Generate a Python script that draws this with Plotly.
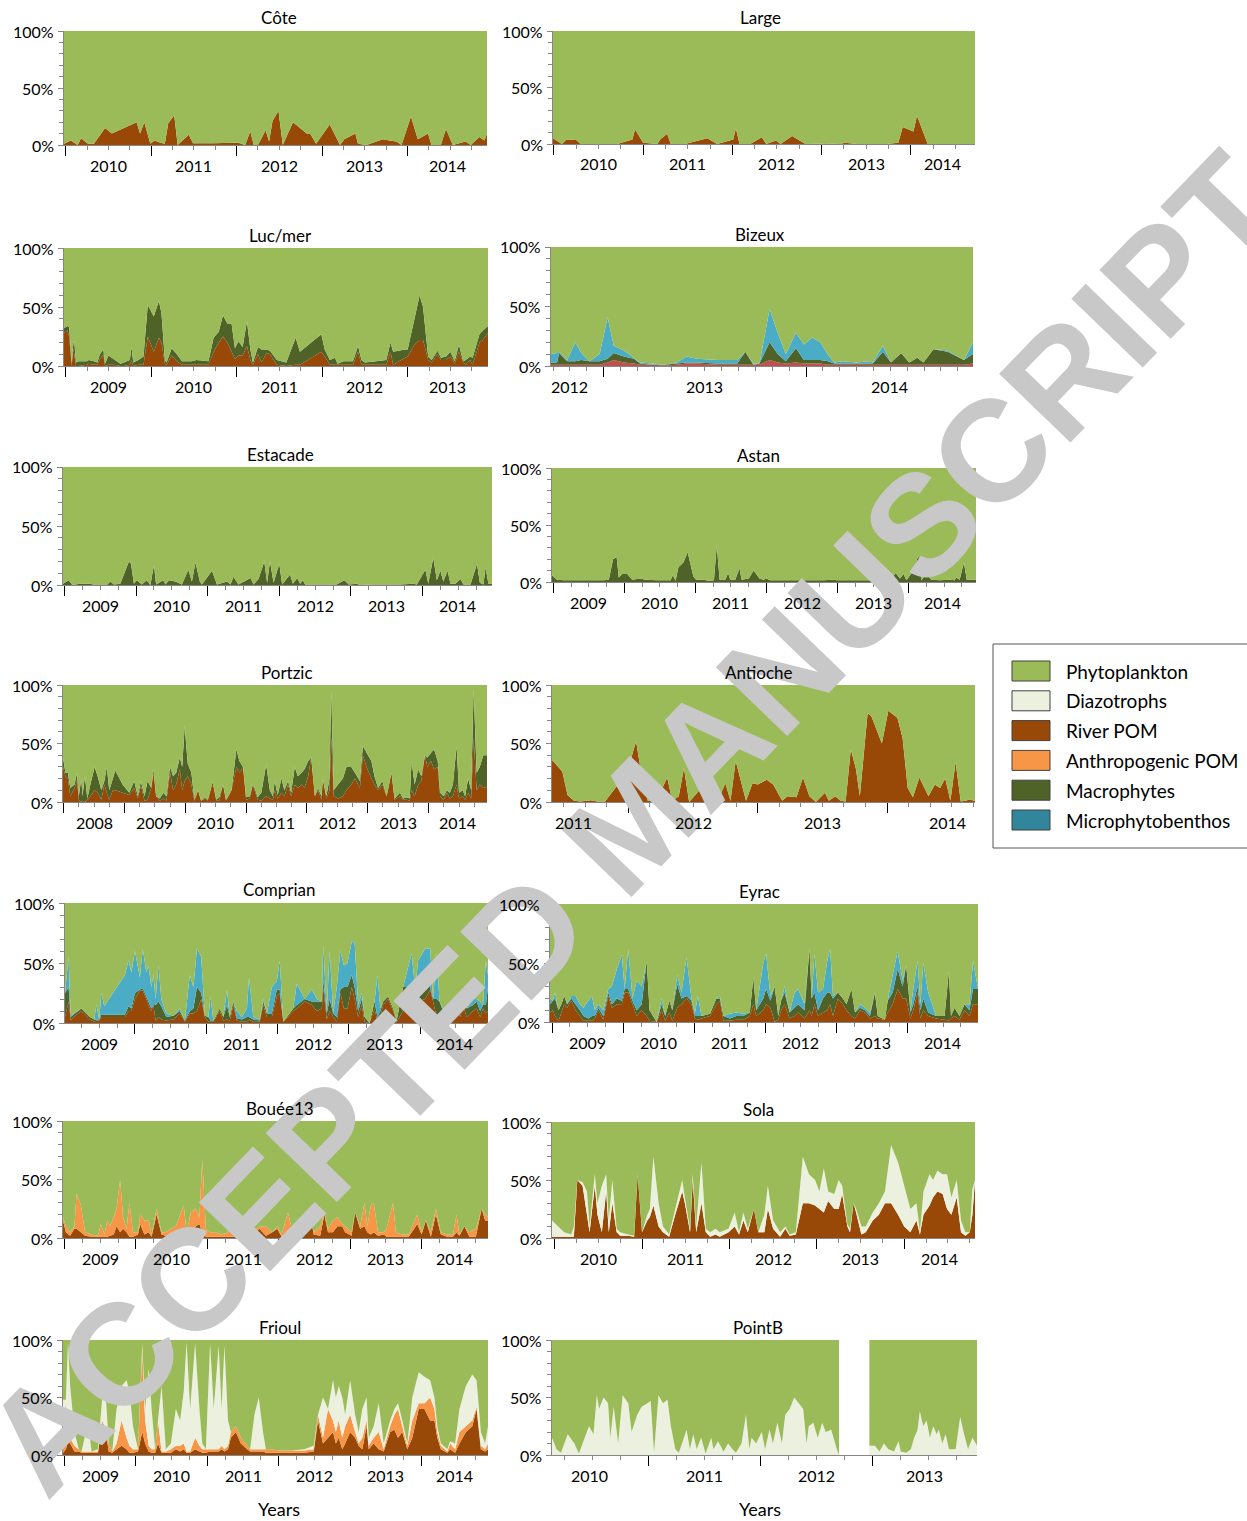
import numpy as np
import plotly.graph_objects as go

FIG_W, FIG_H = 1247, 1521
FONT = "Lato, 'Noto Sans', sans-serif"

# ---------------------------------------------------------------- data
COTE_X = [2009.98, 2010.06, 2010.14, 2010.18, 2010.26, 2010.33, 2010.46, 2010.54, 2010.83, 2010.87, 2010.92, 2010.99,
          2011.04, 2011.11, 2011.16, 2011.20, 2011.27, 2011.31, 2011.44, 2011.49, 2011.73, 2011.96,
          2012.02, 2012.10, 2012.16, 2012.20, 2012.25, 2012.34, 2012.38, 2012.42, 2012.49, 2012.54, 2012.66, 2012.82, 2012.86, 2012.93,
          2013.09, 2013.21, 2013.26, 2013.39, 2013.42, 2013.52, 2013.71, 2013.79, 2013.87, 2013.93,
          2014.04, 2014.12, 2014.24, 2014.28, 2014.39, 2014.45, 2014.53, 2014.68, 2014.74, 2014.84, 2014.90, 2014.93]
COTE_RIVER = [1, 4, 0, 6, 1, 1, 15, 10, 20, 10, 20, 1,
              4, 2, 1, 19, 26, 0, 9, 1.5, 1.5, 2,
              2, 0, 12, 0, 0, 13, 3, 21, 30, 0, 20, 10, 10, 1,
              18, 0, 5, 10, 1, 0, 5, 4, 3, 0,
              25, 5, 10, 0, 0, 14, 0, 3, 0, 7, 4, 10]

LARGE_X = [2009.99, 2010.09, 2010.14, 2010.25, 2010.30, 2010.52, 2010.71, 2010.88, 2010.91,
           2011.00, 2011.16, 2011.19, 2011.27, 2011.31, 2011.47, 2011.72, 2011.83,
           2012.01, 2012.04, 2012.08, 2012.20, 2012.33, 2012.38, 2012.49, 2012.54, 2012.67, 2012.82,
           2013.06, 2013.21, 2013.26, 2013.40, 2013.73, 2013.86, 2013.91,
           2014.03, 2014.07, 2014.19, 2014.72]
LARGE_RIVER = [5, 0, 4, 3.5, 0, 0, 0, 4, 13,
               1, 0, 4, 9, 0, 0, 5, 0,
               4, 14, 0, 0, 6, 0, 3, 0, 7, 0,
               0.5, 0, 1, 0, 0, 1, 15,
               11, 25, 0, 0]

LUC_X = [2008.98, 2009.02, 2009.04, 2009.07, 2009.09, 2009.10, 2009.12, 2009.15, 2009.25, 2009.27, 2009.33, 2009.37, 2009.40,
         2009.44, 2009.46, 2009.50, 2009.56, 2009.64, 2009.68, 2009.75, 2009.77, 2009.79, 2009.85, 2009.91, 2009.96,
         2010.03, 2010.09, 2010.12, 2010.16, 2010.18, 2010.24, 2010.30, 2010.36, 2010.47, 2010.53, 2010.67, 2010.73, 2010.79,
         2010.84, 2010.89, 2010.94, 2010.98,
         2011.02, 2011.07, 2011.12, 2011.16, 2011.19, 2011.25, 2011.29, 2011.35, 2011.39, 2011.47, 2011.58, 2011.69, 2011.74, 2011.99,
         2012.03, 2012.09, 2012.15, 2012.18, 2012.25, 2012.36, 2012.42, 2012.46, 2012.50, 2012.63, 2012.75, 2012.80, 2012.83, 2012.97,
         2013.00, 2013.08, 2013.14, 2013.18, 2013.24, 2013.28, 2013.35, 2013.39, 2013.45, 2013.50, 2013.55, 2013.60, 2013.65,
         2013.68, 2013.73, 2013.76, 2013.84, 2013.88, 2013.94]
LUC_RIVER = [28, 30, 25, 0, 15, 10, 0, 0, 1, 2, 1, 1, 6, 10, 0, 1, 1, 0, 0, 1, 5, 0, 1, 1, 25,
             12, 24, 20, 2, 1, 9, 4, 1, 1, 1, 1, 12, 20, 25, 20, 12, 6,
             9, 9, 17, 5, 1, 10, 3, 11, 10, 1, 0, 1, 1, 12,
             8, 1, 1, 1, 1, 1, 12, 1, 1, 1, 1, 12, 1, 7,
             8, 18, 22, 22, 5, 3, 10, 5, 5, 8, 2, 12, 3, 1, 5, 1, 20, 22, 28]
LUC_MACRO = [4, 4, 8, 2, 5, 11, 3, 4, 3, 3, 3, 2, 4, 4, 2, 8, 5, 2, 3, 4, 11, 3, 4, 7, 27,
             30, 31, 25, 3, 2, 6, 6, 3, 3, 4, 3, 12, 9, 18, 16, 24, 9,
             12, 7, 21, 9, 2, 6, 11, 3, 3, 4, 3, 23, 11, 15,
             6, 4, 6, 1, 3, 3, 5, 4, 2, 3, 4, 8, 11, 7,
             6, 22, 38, 28, 3, 2, 3, 2, 3, 4, 2, 6, 1, 4, 3, 6, 7, 8, 6]

BIZ_X = [2012.74, 2012.77, 2012.78, 2012.82, 2012.86, 2012.89, 2012.93, 2012.98,
         2013.02, 2013.05, 2013.10, 2013.15, 2013.18, 2013.24, 2013.30, 2013.36, 2013.41, 2013.46, 2013.56, 2013.66,
         2013.70, 2013.74, 2013.77, 2013.82, 2013.86, 2013.90, 2013.95, 2013.99,
         2014.03, 2014.07, 2014.11, 2014.14, 2014.18, 2014.25, 2014.31, 2014.33, 2014.38, 2014.42, 2014.47, 2014.51,
         2014.55, 2014.58, 2014.63, 2014.70, 2014.78, 2014.825]
BIZ_RIVER = [1, 1, 1, 1, 1, 1, 1, 1,
             3, 5, 3, 2, 1, 1, 0.5, 1, 2, 2, 1, 1, 1, 1, 1, 5, 3, 2, 3, 2,
             2, 2, 1, 1, 1, 1, 1, 1, 1, 1, 1, 1, 1, 1, 1, 1, 1, 2]
BIZ_MACRO = [2, 2, 10, 3, 3, 4, 3, 3,
             3, 6, 5, 4, 1, 0, 0.5, 1, 1, 1, 1, 1, 11, 0, 1, 15, 7, 2, 12, 3,
             3, 3, 3, 1, 1, 1, 1, 1, 11, 2, 10, 2, 6, 2, 13, 11, 4, 8]
BIZ_MICRO = [7, 8, 1, 1, 16, 6, 0, 6,
             35, 6, 5, 1, 1, 1, 0, 1, 5, 3, 3, 3, 0, 1, 0, 28, 18, 6, 13, 13,
             19, 15, 5, 1, 2, 1, 2, 1, 5, 0, 0, 0, 0, 0, 0, 1, 0, 10]

EST_X = [2008.98, 2009.06, 2009.11, 2009.22, 2009.34, 2009.41, 2009.60, 2009.64, 2009.69, 2009.78, 2009.90, 2009.93, 2009.97,
         2010.01, 2010.08, 2010.15, 2010.20, 2010.25, 2010.28, 2010.38, 2010.41, 2010.46, 2010.55, 2010.64, 2010.73, 2010.78,
         2010.83, 2010.89, 2010.92,
         2011.06, 2011.13, 2011.27, 2011.32, 2011.36, 2011.43, 2011.60, 2011.64, 2011.71, 2011.79, 2011.83, 2011.87, 2011.92,
         2012.00, 2012.04, 2012.15, 2012.19, 2012.25, 2012.29, 2012.33, 2012.36, 2012.57, 2012.80, 2012.91, 2012.97,
         2013.08, 2013.13, 2013.32, 2013.69, 2013.87, 2013.92,
         2014.04, 2014.08, 2014.15, 2014.20, 2014.25, 2014.29, 2014.35, 2014.39, 2014.46, 2014.53, 2014.57, 2014.67, 2014.76,
         2014.80, 2014.85, 2014.88, 2014.92, 2014.97]
EST_MACRO = [1, 4, 0, 1, 1, 0.5, 0.5, 3, 0.5, 1, 20, 18, 1,
             4, 0.5, 4, 0, 17, 0.5, 4, 0.5, 4, 3, 0.5, 13, 3, 19, 3, 0.5,
             12, 0.5, 3, 0.5, 7, 0.5, 6, 0.5, 5, 20, 2, 20, 2,
             18, 0.5, 9, 1, 6, 1, 4, 0.5, 0.5, 0.5, 4, 0.5,
             1, 0, 0.5, 0.5, 1, 0.5,
             13, 1, 23, 4, 12, 3, 12, 1, 1, 5, 0.5, 0.5, 18, 2, 0.5, 15, 1, 1]

AST_X = [2008.98, 2009.05, 2009.15, 2009.33, 2009.52, 2009.71, 2009.78, 2009.84, 2009.89, 2009.92, 2009.97,
         2010.04, 2010.11, 2010.22, 2010.30, 2010.46, 2010.65, 2010.68, 2010.72, 2010.76, 2010.83, 2010.89, 2010.97,
         2011.01, 2011.11, 2011.19, 2011.26, 2011.30, 2011.34, 2011.42, 2011.46, 2011.49, 2011.56, 2011.62, 2011.65,
         2011.75, 2011.82, 2011.90, 2011.96,
         2012.00, 2012.05, 2012.33, 2012.52, 2012.80, 2012.94, 2012.99,
         2013.27, 2013.74, 2013.82, 2013.88, 2013.93, 2013.97,
         2014.07, 2014.14, 2014.18, 2014.25, 2014.32, 2014.44, 2014.58, 2014.65, 2014.67, 2014.72, 2014.78, 2014.82, 2014.95]
AST_MACRO = [6, 2, 1.5, 1.5, 1.5, 1.5, 2, 20, 22, 4, 7,
             7, 2, 3, 2, 1.5, 1.5, 6, 1, 13, 17, 26, 5,
             2, 2, 1, 1.5, 32, 2, 2, 8, 2, 2, 12, 2, 3, 10, 3, 2,
             3, 1.5, 1.5, 1.5, 1.5, 2, 1.5,
             1.5, 1.5, 8, 3, 7, 1.5,
             10, 24, 1.5, 7, 2, 1.5, 2, 1.5, 4, 2, 17, 2, 2]

POR_X = [2007.99, 2008.03, 2008.07, 2008.11, 2008.18, 2008.22, 2008.25, 2008.29, 2008.31, 2008.35, 2008.39, 2008.44,
         2008.51, 2008.56, 2008.62, 2008.67, 2008.71, 2008.75, 2008.81, 2008.85, 2008.97,
         2009.08, 2009.16, 2009.22, 2009.27, 2009.33, 2009.38, 2009.44, 2009.48, 2009.52, 2009.58, 2009.64, 2009.69,
         2009.75, 2009.80, 2009.85, 2009.91, 2009.95, 2009.99,
         2010.04, 2010.10, 2010.15, 2010.21, 2010.26, 2010.32, 2010.37, 2010.45, 2010.51, 2010.56, 2010.62, 2010.67,
         2010.76, 2010.84, 2010.89, 2010.95,
         2011.00, 2011.06, 2011.11, 2011.14, 2011.19, 2011.25, 2011.33, 2011.39, 2011.44, 2011.47, 2011.52, 2011.58,
         2011.63, 2011.69, 2011.74, 2011.80, 2011.85, 2011.91, 2011.96,
         2012.02, 2012.07, 2012.13, 2012.18, 2012.24, 2012.26, 2012.32, 2012.37, 2012.40, 2012.44, 2012.51, 2012.59,
         2012.65, 2012.73, 2012.79, 2012.87, 2012.92, 2012.98,
         2013.06, 2013.11, 2013.17, 2013.24, 2013.31, 2013.39, 2013.44, 2013.53, 2013.58, 2013.64, 2013.69, 2013.72,
         2013.77, 2013.83, 2013.88, 2013.94, 2013.98,
         2014.04, 2014.09, 2014.15, 2014.19, 2014.25, 2014.30, 2014.35, 2014.40, 2014.46, 2014.50, 2014.56, 2014.60,
         2014.65, 2014.70, 2014.74, 2014.79, 2014.84, 2014.90, 2014.96]
POR_RIVER = [30, 22, 20, 5, 12, 18, 2, 0, 1, 0, 2, 5, 10, 8, 2, 15, 8, 2, 10, 10, 8,
             6, 12, 3, 14, 1, 2, 12, 25, 5, 1, 3, 1, 25, 10, 15, 28, 10, 18,
             22, 15, 1, 10, 1, 3, 1, 17, 1, 1, 15, 1, 10, 30, 25, 30,
             2, 3, 15, 10, 2, 1, 5, 3, 2, 10, 3, 8, 5, 15, 5, 15, 12, 15, 12,
             22, 38, 5, 10, 2, 20, 3, 10, 55, 5, 3, 5, 10, 15, 20, 12, 40, 30,
             20, 15, 10, 15, 5, 25, 2, 5, 2, 2, 1, 10, 5, 15, 18, 40, 30,
             35, 28, 30, 5, 2, 8, 3, 5, 15, 3, 5, 2, 8, 3, 55, 10, 15, 12, 13]
POR_MACRO = [8, 3, 5, 7, 3, 7, 3, 20, 4, 22, 1, 10, 20, 14, 8, 3, 22, 8, 10, 17, 7,
             2, 6, 2, 4, 4, 16, 0, 3, 0, 2, 5, 4, 5, 12, 10, 10, 20, 47,
             11, 10, 1, 0, 0, 1, 1, 0, 1, 3, 0, 1, 0, 15, 10, 0,
             2, 2, 0, 2, 2, 7, 27, 7, 3, 8, 3, 12, 5, 3, 3, 15, 10, 10, 16,
             13, 0, 0, 2, 3, 0, 2, 10, 40, 5, 12, 15, 20, 15, 5, 6, 8, 12,
             15, 7, 2, 3, 0, 0, 1, 3, 1, 2, 2, 25, 10, 13, 4, 0, 8,
             7, 17, 5, 3, 3, 2, 5, 10, 33, 5, 5, 3, 12, 7, 42, 15, 15, 28, 27]

ANT_X = [2011.41, 2011.45, 2011.49, 2011.53, 2011.58, 2011.63, 2011.71, 2011.76, 2011.82, 2011.99,
         2012.06, 2012.11, 2012.15, 2012.22, 2012.30, 2012.34, 2012.39, 2012.43, 2012.47, 2012.55, 2012.58, 2012.62,
         2012.70, 2012.75, 2012.79, 2012.83, 2012.91, 2012.96,
         2013.00, 2013.07, 2013.12, 2013.19, 2013.23, 2013.30, 2013.35, 2013.40, 2013.45, 2013.52, 2013.55, 2013.60,
         2013.64, 2013.68, 2013.72, 2013.76, 2013.79, 2013.85, 2013.88, 2013.96,
         2014.01, 2014.08, 2014.12, 2014.16, 2014.20, 2014.25, 2014.32, 2014.37, 2014.41, 2014.45, 2014.49, 2014.53,
         2014.57, 2014.64, 2014.68]
ANT_RIVER = [36, 31, 26, 6, 1, 0.5, 1.5, 0.5, 0.5, 25,
             52, 18, 1, 1, 21, 1, 5, 29, 0, 10, 6, 16, 3, 16, 1, 35, 1, 16,
             15, 19, 15, 1, 5, 4, 21, 5, 0, 8, 1, 5, 1, 0.5, 45, 28, 5, 76, 73, 50,
             78, 72, 55, 12, 4, 21, 5, 15, 12, 20, 1, 34, 0.5, 2, 1]

COM_X = [2009.02, 2009.07, 2009.10, 2009.14, 2009.25, 2009.37, 2009.43, 2009.46, 2009.50, 2009.53, 2009.57, 2009.86,
         2009.91, 2009.95,
         2010.00, 2010.07, 2010.11, 2010.16, 2010.19, 2010.23, 2010.26, 2010.29, 2010.33, 2010.37, 2010.44, 2010.54,
         2010.63, 2010.70, 2010.77, 2010.82, 2010.87, 2010.93, 2010.98,
         2011.03, 2011.06, 2011.10, 2011.19, 2011.24, 2011.29, 2011.33, 2011.38, 2011.43, 2011.50, 2011.57, 2011.60,
         2011.66, 2011.75, 2011.80, 2011.85, 2011.92, 2011.99,
         2012.03, 2012.08, 2012.22, 2012.27, 2012.38, 2012.48, 2012.55, 2012.62, 2012.64, 2012.69, 2012.73, 2012.78,
         2012.83, 2012.88, 2012.93, 2012.98,
         2013.04, 2013.08, 2013.13, 2013.18, 2013.22, 2013.29, 2013.36, 2013.40, 2013.44, 2013.48, 2013.55, 2013.62,
         2013.67, 2013.76, 2013.88, 2013.93, 2013.97,
         2014.07, 2014.14, 2014.18, 2014.23, 2014.27, 2014.32, 2014.39, 2014.46, 2014.51, 2014.56, 2014.60, 2014.65,
         2014.74, 2014.79, 2014.84, 2014.88, 2014.92, 2014.95]
COM_RIVER = [5, 18, 2, 5, 10, 3, 1, 2, 2, 5, 5, 5, 10, 10,
             20, 27, 27, 20, 15, 10, 15, 2, 5, 3, 2, 3, 8, 1, 8, 8, 10, 20, 5,
             1, 1, 1, 10, 2, 3, 2, 15, 2, 1, 1, 3, 1, 1, 15, 5, 5, 22,
             25, 1, 10, 12, 18, 15, 10, 12, 30, 3, 10, 5, 1, 25, 12, 12,
             30, 20, 5, 15, 1, 0, 12, 1, 5, 15, 20, 10, 1, 10, 18, 18, 18,
             20, 28, 18, 5, 5, 8, 5, 3, 12, 5, 15, 5, 10, 12, 5, 12, 8, 10]
COM_MACRO = [20, 12, 3, 2, 2, 2, 2, 1, 1, 2, 2, 2, 4, 2,
             5, 1, 2, 2, 3, 2, 0, 13, 13, 11, 3, 3, 2, 1, 2, 4, 20, 5, 1,
             4, 1, 1, 2, 3, 12, 3, 3, 2, 2, 4, 2, 2, 1, 3, 3, 3, 6,
             3, 0, 2, 3, 2, 3, 8, 6, 6, 5, 10, 3, 4, 3, 18, 18,
             10, 10, 5, 5, 4, 0, 6, 4, 5, 3, 2, 2, 1, 20, 12, 10, 12,
             20, 2, 2, 15, 13, 2, 3, 2, 3, 7, 5, 7, 5, 6, 5, 3, 7, 20]
COM_MICRO = [0, 25, 1, 1, 0, 0, 0, 12, 0, 18, 7, 33, 38, 30,
             35, 10, 33, 20, 30, 18, 25, 5, 30, 6, 3, 0, 2, 0, 30, 18, 32, 30, 0,
             0, 20, 0, 0, 0, 13, 0, 0, 6, 2, 7, 33, 2, 1, 2, 0, 22, 7,
             24, 0, 0, 18, 0, 10, 2, 0, 29, 2, 40, 0, 25, 32, 18, 20,
             28, 37, 5, 5, 0, 0, 0, 35, 2, 0, 0, 0, 0, 0, 28, 0, 22,
             22, 32, 0, 38, 0, 2, 0, 0, 5, 0, 0, 0, 5, 2, 8, 0, 37, 10]

EYR_X = [2008.97, 2009.01, 2009.04, 2009.09, 2009.13, 2009.17, 2009.21, 2009.27, 2009.33, 2009.39, 2009.44, 2009.51,
         2009.56, 2009.60, 2009.65, 2009.72, 2009.79, 2009.84, 2009.91, 2009.98,
         2010.02, 2010.07, 2010.13, 2010.19, 2010.26, 2010.33, 2010.37, 2010.47, 2010.54, 2010.59, 2010.65, 2010.69,
         2010.76, 2010.82, 2010.89, 2010.96,
         2011.01, 2011.05, 2011.10, 2011.22, 2011.31, 2011.36, 2011.41, 2011.50, 2011.59, 2011.69, 2011.78, 2011.83,
         2011.87, 2011.97,
         2012.01, 2012.07, 2012.13, 2012.18, 2012.22, 2012.27, 2012.34, 2012.41, 2012.46, 2012.55, 2012.62, 2012.65,
         2012.69, 2012.74, 2012.81, 2012.87, 2012.91, 2012.95,
         2013.02, 2013.09, 2013.14, 2013.21, 2013.26, 2013.33, 2013.40, 2013.47, 2013.54, 2013.58, 2013.68, 2013.72,
         2013.79, 2013.86, 2013.93, 2013.98,
         2014.04, 2014.08, 2014.14, 2014.18, 2014.22, 2014.29, 2014.40, 2014.52, 2014.58, 2014.61, 2014.66, 2014.73,
         2014.80, 2014.87, 2014.92, 2014.99]
EYR_RIVER = [8, 10, 5, 1, 8, 15, 12, 18, 10, 5, 1, 1, 1, 3, 10, 2, 22, 12, 15, 15,
             25, 25, 15, 5, 10, 5, 1, 0, 10, 1, 8, 1, 12, 15, 20, 15,
             3, 2, 3, 5, 15, 18, 1, 1, 2, 2, 5, 15, 5, 10,
             15, 12, 0, 2, 10, 15, 3, 5, 8, 3, 10, 5, 15, 5, 8, 10, 15, 5,
             20, 15, 10, 5, 3, 10, 8, 3, 5, 3, 2, 8, 15, 28, 20, 20,
             3, 10, 25, 3, 10, 5, 3, 2, 1, 3, 5, 2, 10, 5, 15, 15]
EYR_MACRO = [7, 8, 15, 9, 7, 7, 3, 2, 5, 5, 4, 2, 4, 2, 2, 3, 3, 3, 5, 3,
             3, 3, 3, 5, 5, 47, 9, 0, 5, 4, 10, 9, 20, 5, 2, 3,
             2, 3, 2, 2, 5, 2, 4, 2, 3, 3, 3, 23, 5, 10,
             13, 6, 30, 3, 8, 10, 5, 7, 7, 7, 52, 15, 10, 5, 12, 15, 10, 15,
             5, 5, 5, 23, 5, 2, 2, 2, 20, 2, 0, 10, 10, 17, 10, 28,
             5, 5, 5, 7, 10, 3, 2, 3, 42, 2, 7, 3, 5, 5, 13, 13]
EYR_MICRO = [5, 0, 5, 0, 0, 0, 0, 2, 7, 5, 7, 15, 17, 5, 3, 5, 3, 15, 25, 39,
             0, 34, 2, 25, 15, 0, 0, 0, 5, 0, 0, 0, 8, 5, 33, 2,
             3, 17, 0, 0, 0, 2, 0, 4, 3, 2, 0, 0, 0, 30,
             30, 4, 0, 0, 0, 5, 0, 13, 13, 5, 0, 0, 33, 15, 8, 27, 37, 2,
             0, 0, 0, 0, 0, 3, 2, 3, 0, 0, 0, 0, 15, 15, 5, 0,
             2, 13, 22, 5, 30, 17, 0, 0, 0, 0, 0, 0, 0, 5, 24, 0]

BOU_X = [2008.98, 2009.02, 2009.08, 2009.14, 2009.17, 2009.23, 2009.29, 2009.38, 2009.47, 2009.51, 2009.56, 2009.60,
         2009.64, 2009.69, 2009.73, 2009.78, 2009.82, 2009.87, 2009.91, 2009.96,
         2010.03, 2010.06, 2010.12, 2010.18, 2010.22, 2010.29, 2010.36, 2010.42, 2010.49, 2010.56, 2010.67, 2010.71,
         2010.77, 2010.84, 2010.89, 2010.93, 2010.98,
         2011.04, 2011.11, 2011.20, 2011.29, 2011.40, 2011.45, 2011.56, 2011.64, 2011.73, 2011.82, 2011.91, 2011.98,
         2012.04, 2012.13, 2012.20, 2012.31, 2012.44, 2012.49, 2012.58, 2012.64, 2012.69, 2012.76, 2012.82, 2012.89, 2012.93,
         2013.02, 2013.07, 2013.14, 2013.20, 2013.24, 2013.29, 2013.33, 2013.39, 2013.47, 2013.51, 2013.60, 2013.64,
         2013.73, 2013.82, 2013.94,
         2014.00, 2014.06, 2014.13, 2014.20, 2014.27, 2014.36, 2014.44, 2014.49, 2014.53, 2014.60, 2014.67, 2014.76,
         2014.84, 2014.89, 2014.93]
BOU_RIVER = [15, 5, 2, 8, 8, 5, 2, 1, 1, 1, 1, 1, 2, 3, 10, 5, 8, 5, 1, 1,
             3, 12, 3, 5, 1, 20, 3, 2, 2, 3, 5, 3, 3, 10, 12, 5, 1,
             1, 1, 1, 1, 1, 1, 1, 3, 8, 2, 5, 8,
             1, 2, 1, 1, 20, 3, 2, 20, 5, 5, 10, 10, 5,
             2, 22, 8, 10, 5, 3, 5, 2, 3, 1, 1, 1, 1, 1, 12,
             3, 15, 1, 20, 3, 1, 1, 5, 2, 10, 1, 1, 25, 15, 15]
BOU_ANTHRO = [3, 5, 3, 2, 30, 23, 3, 2, 1, 11, 2, 14, 8, 15, 15, 45, 10, 3, 29, 4,
              2, 8, 12, 10, 2, 5, 2, 3, 6, 7, 23, 2, 19, 15, 6, 62, 7,
              4, 4, 2, 4, 17, 2, 4, 2, 2, 8, 0, 2,
              2, 20, 2, 2, 0, 2, 8, 2, 3, 10, 8, 2, 5,
              3, 0, 2, 20, 5, 25, 25, 3, 2, 7, 29, 4, 2, 2, 8,
              2, 0, 4, 5, 2, 2, 2, 15, 1, 0, 4, 7, 0, 5, 3]

SOL_X = [2009.97, 2010.04, 2010.11, 2010.19, 2010.22, 2010.26, 2010.32, 2010.37, 2010.40, 2010.46, 2010.49, 2010.54,
         2010.59, 2010.62, 2010.66, 2010.71, 2010.75, 2010.84, 2010.91, 2010.95,
         2011.00, 2011.06, 2011.09, 2011.13, 2011.19, 2011.24, 2011.31, 2011.38, 2011.46, 2011.49, 2011.55, 2011.58,
         2011.62, 2011.68, 2011.73, 2011.78, 2011.84, 2011.89, 2011.99,
         2012.06, 2012.11, 2012.16, 2012.21, 2012.28, 2012.33, 2012.40, 2012.44, 2012.50, 2012.58, 2012.64, 2012.69,
         2012.76, 2012.84, 2012.91, 2012.98,
         2013.03, 2013.08, 2013.13, 2013.20, 2013.25, 2013.29, 2013.35, 2013.38, 2013.42, 2013.45, 2013.51, 2013.56,
         2013.64, 2013.71, 2013.78, 2013.85, 2013.93,
         2014.00, 2014.07, 2014.14, 2014.18, 2014.22, 2014.29, 2014.33, 2014.38, 2014.44, 2014.49, 2014.54, 2014.60,
         2014.65, 2014.70, 2014.75, 2014.78, 2014.81]
SOL_RIVER = [1, 1, 1, 1, 1, 50, 45, 20, 5, 45, 20, 5, 40, 5, 30, 5, 2, 2, 1, 55,
             5, 15, 18, 28, 10, 5, 1, 20, 40, 30, 5, 50, 5, 30, 5, 1, 3, 1, 5,
             10, 3, 15, 5, 25, 5, 5, 25, 8, 1, 8, 2, 3, 30, 30, 28,
             25, 22, 32, 25, 25, 38, 10, 5, 30, 22, 3, 5, 15, 20, 30, 30, 20,
             10, 5, 15, 3, 20, 28, 35, 40, 38, 25, 20, 35, 5, 2, 5, 20, 50]
SOL_DIAZO = [14, 9, 4, 2, 9, 0, 3, 20, 5, 10, 10, 40, 15, 10, 20, 3, 3, 1, 1, 0,
             0, 5, 7, 42, 20, 5, 2, 5, 10, 5, 3, 5, 5, 35, 3, 4, 5, 4, 3,
             12, 2, 7, 3, 0, 0, 15, 20, 7, 4, 2, 1, 2, 40, 25, 22,
             15, 38, 8, 13, 25, 7, 2, 3, 0, 3, 7, 5, 7, 10, 10, 50, 45,
             35, 20, 15, 2, 20, 27, 15, 18, 17, 30, 15, 15, 10, 3, 0, 22, 0]

FRI_X = [2008.98, 2009.02, 2009.05, 2009.08, 2009.14, 2009.20, 2009.24, 2009.33, 2009.38, 2009.47, 2009.53, 2009.58,
         2009.62, 2009.67, 2009.73, 2009.80, 2009.87, 2009.91, 2009.96,
         2010.03, 2010.09, 2010.13, 2010.18, 2010.22, 2010.27, 2010.31, 2010.36, 2010.42, 2010.49, 2010.56, 2010.62,
         2010.67, 2010.71, 2010.76, 2010.83, 2010.89, 2010.93, 2010.98,
         2011.04, 2011.09, 2011.16, 2011.20, 2011.24, 2011.29, 2011.33, 2011.40, 2011.47, 2011.56, 2011.60, 2011.66,
         2011.72, 2011.78, 2011.82, 2011.91,
         2012.00, 2012.18, 2012.36, 2012.49, 2012.55, 2012.62, 2012.69, 2012.76, 2012.80, 2012.84, 2012.89, 2012.93,
         2013.00, 2013.07, 2013.12, 2013.17, 2013.23, 2013.26, 2013.33, 2013.40, 2013.47, 2013.56, 2013.62, 2013.67,
         2013.73, 2013.80, 2013.87, 2013.96,
         2014.04, 2014.12, 2014.18, 2014.22, 2014.27, 2014.36, 2014.40, 2014.47, 2014.53, 2014.62, 2014.71, 2014.77,
         2014.83, 2014.89, 2014.93]
FRI_RIVER = [2, 5, 12, 10, 3, 3, 2, 2, 2, 2, 28, 20, 3, 2, 5, 8, 5, 2, 2,
             3, 20, 10, 3, 2, 2, 10, 2, 2, 2, 5, 3, 5, 2, 2, 5, 3, 2, 2,
             3, 3, 3, 5, 3, 5, 15, 20, 10, 5, 3, 3, 3, 3, 2, 2,
             2, 2, 2, 3, 30, 10, 15, 20, 10, 15, 5, 10,
             20, 15, 8, 5, 25, 5, 10, 5, 3, 20, 22, 15, 20, 5, 15, 40,
             40, 30, 30, 15, 5, 2, 5, 2, 10, 20, 25, 40, 5, 3, 5]
FRI_ANTHRO = [3, 43, 8, 5, 5, 2, 1, 1, 1, 1, 2, 2, 7, 1, 5, 22, 10, 6, 3,
              2, 72, 20, 5, 3, 3, 20, 1, 1, 3, 3, 5, 5, 1, 1, 10, 5, 3, 3,
              2, 2, 2, 3, 2, 3, 5, 5, 5, 3, 2, 2, 2, 2, 3, 3,
              2, 2, 2, 2, 5, 5, 25, 10, 10, 15, 10, 15,
              15, 5, 2, 10, 5, 3, 5, 15, 2, 5, 13, 25, 5, 3, 15, 5,
              5, 20, 10, 5, 3, 1, 5, 3, 10, 5, 5, 2, 3, 2, 5]
FRI_DIAZO = [43, 0, 78, 45, 12, 0, 0, 25, 0, 2, 20, 28, 0, 0, 30, 30, 50, 47, 20,
             0, 5, 10, 67, 35, 0, 0, 57, 2, 5, 32, 22, 45, 95, 37, 82, 32, 5, 0,
             92, 35, 90, 32, 90, 22, 0, 0, 0, 0, 0, 30, 45, 15, 0, 0,
             0, 0, 1, 3, 0, 35, 0, 35, 30, 30, 35, 10,
             30, 15, 10, 25, 20, 7, 10, 25, 5, 5, 5, 5, 5, 2, 20, 27,
             23, 15, 10, 5, 2, 2, 2, 5, 20, 35, 40, 23, 12, 5, 15]

PTB_X1 = [2010.14, 2010.18, 2010.22, 2010.28, 2010.34, 2010.38, 2010.42, 2010.47, 2010.51, 2010.54, 2010.56, 2010.60,
          2010.64, 2010.66, 2010.69, 2010.73, 2010.77, 2010.82, 2010.85, 2010.90, 2010.94, 2010.99,
          2011.02, 2011.05, 2011.09, 2011.13, 2011.17, 2011.20, 2011.24, 2011.27, 2011.30, 2011.34, 2011.37, 2011.40,
          2011.43, 2011.47, 2011.51, 2011.56, 2011.58, 2011.62, 2011.67, 2011.71, 2011.75, 2011.78, 2011.83, 2011.87,
          2011.90, 2011.92, 2011.96,
          2012.01, 2012.04, 2012.08, 2012.11, 2012.15, 2012.19, 2012.22, 2012.26, 2012.30, 2012.34, 2012.38, 2012.41,
          2012.43, 2012.47, 2012.51, 2012.55, 2012.58, 2012.63, 2012.68, 2012.70]
PTB_DIAZO1 = [15, 5, 2, 18, 10, 1, 12, 25, 18, 52, 40, 50, 45, 15, 42, 10, 52, 45, 20, 35, 42, 45,
              47, 2, 52, 45, 48, 25, 5, 2, 10, 22, 5, 18, 5, 15, 1, 15, 5, 12, 3, 10, 5, 2, 10, 35, 5, 15, 10,
              20, 5, 22, 10, 28, 10, 35, 40, 50, 45, 40, 10, 25, 28, 15, 28, 20, 22, 5, 0]
PTB_X2 = [2012.97, 2013.02, 2013.06, 2013.10, 2013.14, 2013.19, 2013.23, 2013.25, 2013.30, 2013.34, 2013.37, 2013.40,
          2013.42, 2013.45, 2013.48, 2013.51, 2013.54, 2013.57, 2013.59, 2013.62, 2013.65, 2013.68, 2013.74, 2013.78,
          2013.81, 2013.85, 2013.89, 2013.93]
PTB_DIAZO2 = [8, 8, 3, 10, 5, 3, 12, 3, 2, 5, 15, 22, 38, 25, 30, 15, 25, 18, 22, 10, 18, 5, 5, 33, 20, 5, 15, 8]

LEGEND_NAMES = ["Phytoplankton", "Diazotrophs", "River POM", "Anthropogenic POM", "Macrophytes", "Microphytobenthos"]
Y_TICKS = [0, 50, 100]
Y_TICK_TEXT = ["0%", "50%", "100%"]

# ---------------------------------------------------------------- styles
COL = dict(phyto="#9bbb59", diazo="#ebf1de", river="#984807", anthro="#f79646",
           macro="#4f6228", micro="#4bacc6")
LEGEND_COL = ["#9bbb59", "#ebf1de", "#984807", "#f79646", "#4f6228", "#31859c"]
ORDER = ["river", "anthro", "macro", "micro", "diazo"]
AXIS_GREY = "#868686"

# box = (left, right, top, bottom) in pixels; tx = title centre (px)
PANELS = [
    dict(title="Côte", box=(64, 487, 31, 145), tx=279, minor=4, segs=[(COTE_X, dict(river=COTE_RIVER))]),
    dict(title="Large", box=(553, 975, 31, 144), tx=760, minor=4, segs=[(LARGE_X, dict(river=LARGE_RIVER))]),
    dict(title="Luc/mer", box=(64, 488, 248, 366), tx=280, minor=4,
         segs=[(LUC_X, dict(river=LUC_RIVER, macro=LUC_MACRO))]),
    dict(title="Bizeux", box=(551, 973, 247, 366), tx=760, minor=12, colors=dict(river="#c0504d"),
         label_x={2012: 2012.83},
         segs=[(BIZ_X, dict(river=BIZ_RIVER, macro=BIZ_MACRO, micro=BIZ_MICRO))]),
    dict(title="Estacade", box=(63, 492, 467, 585), tx=280, minor=4, segs=[(EST_X, dict(macro=EST_MACRO))]),
    dict(title="Astan", box=(552, 976, 468, 582), tx=758, minor=4, segs=[(AST_X, dict(macro=AST_MACRO))]),
    dict(title="Portzic", box=(63, 487, 685, 802), tx=287, minor=4,
         segs=[(POR_X, dict(river=POR_RIVER, macro=POR_MACRO))]),
    dict(title="Antioche", box=(552, 975, 685, 802), tx=759, minor=6, label_x={2011: 2011.58, 2014: 2014.47},
         segs=[(ANT_X, dict(river=ANT_RIVER))]),
    dict(title="Comprian", box=(65, 488, 903, 1023), tx=279, minor=4,
         segs=[(COM_X, dict(river=COM_RIVER, macro=COM_MACRO, micro=COM_MICRO))]),
    dict(title="Eyrac", box=(550, 978, 904, 1022), tx=759, minor=4,
         segs=[(EYR_X, dict(river=EYR_RIVER, macro=EYR_MACRO, micro=EYR_MICRO))]),
    dict(title="Bouée13", box=(63, 488, 1121, 1238), tx=280, minor=4,
         segs=[(BOU_X, dict(river=BOU_RIVER, anthro=BOU_ANTHRO))]),
    dict(title="Sola", box=(552, 975, 1122, 1238), tx=758, minor=4,
         segs=[(SOL_X, dict(river=SOL_RIVER, diazo=SOL_DIAZO))]),
    dict(title="Frioul", box=(63, 488, 1340, 1455), tx=280, minor=4,
         segs=[(FRI_X, dict(river=FRI_RIVER, anthro=FRI_ANTHRO, diazo=FRI_DIAZO))]),
    dict(title="PointB", box=(552, 977, 1340, 1455), tx=758, minor=4, label_x={2010: 2010.47},
         segs=[(PTB_X1, dict(diazo=PTB_DIAZO1)), (PTB_X2, dict(diazo=PTB_DIAZO2))]),
]


def px(x):
    return x / FIG_W


def py(y):
    return 1 - y / FIG_H


fig = go.Figure()
layout = {}
shapes = []
# watermark first so that all later texts are drawn over it
annotations = [dict(x=px(634), y=py(824), xref="paper", yref="paper", text="<b>ACCEPTED MANUSCRIPT</b>",
                    showarrow=False, textangle=-46, xanchor="center", yanchor="middle",
                    font=dict(size=144, color="#c8c8c8", family="'Liberation Sans', Arial, sans-serif"))]

for i, p in enumerate(PANELS, start=1):
    suffix = "" if i == 1 else str(i)
    xa, ya = "x" + suffix, "y" + suffix
    L, R, T, B = p["box"]
    colors = dict(COL, **p.get("colors", {}))
    x0 = min(s[0][0] for s in p["segs"])
    x1 = max(s[0][-1] for s in p["segs"])
    for s, (xs, layers) in enumerate(p["segs"]):
        xs = np.asarray(xs, float)
        total = np.zeros(len(xs))
        for name in ORDER:
            if name not in layers:
                continue
            v = np.asarray(layers[name], float)
            assert len(v) == len(xs), (p["title"], name, len(v), len(xs))
            total += v
            fig.add_trace(go.Scatter(x=xs, y=v, xaxis=xa, yaxis=ya, stackgroup=f"g{i}_{s}",
                                     mode="none", fillcolor=colors[name], line=dict(width=0),
                                     showlegend=False, hoverinfo="skip"))
        phyto = np.clip(100 - total, 0, None)
        fig.add_trace(go.Scatter(x=xs, y=phyto, xaxis=xa, yaxis=ya, stackgroup=f"g{i}_{s}",
                                 mode="none", fillcolor=colors["phyto"], line=dict(width=0),
                                 showlegend=False, hoverinfo="skip"))

    years = [y for y in range(int(np.floor(x0)), int(np.ceil(x1)) + 1) if x0 < y < x1]
    step = 1.0 / p["minor"]
    minor_vals = [v for v in np.arange(np.floor(x0), x1, step) if x0 <= v <= x1 and abs(v - round(v)) > 1e-6]

    layout["xaxis" + suffix] = dict(
        domain=[px(L), px(R)], anchor=ya, range=[x0, x1], tickmode="array", tickvals=years,
        ticks="outside", ticklen=10, tickcolor="black", tickwidth=1, showticklabels=False, automargin=False,
        showline=True, linecolor=AXIS_GREY, linewidth=1, showgrid=False, zeroline=False, fixedrange=True,
        minor=dict(tickmode="array", tickvals=minor_vals, ticks="outside", ticklen=4,
                   tickcolor=AXIS_GREY, tickwidth=1, showgrid=False))
    layout["yaxis" + suffix] = dict(
        domain=[py(B), py(T)], anchor=xa, range=[0, 100], tickmode="array", tickvals=Y_TICKS,
        ticks="outside", ticklen=5, tickcolor=AXIS_GREY, showticklabels=False, automargin=False,
        showline=True, linecolor=AXIS_GREY, linewidth=1, showgrid=False, zeroline=False, fixedrange=True,
        minor=dict(tickmode="array", tickvals=[10, 20, 30, 40, 60, 70, 80, 90], ticks="outside",
                   ticklen=4, tickcolor=AXIS_GREY, tickwidth=1, showgrid=False))

    # y tick labels (as texts so that they sit above the watermark)
    for v, t in zip(Y_TICKS, Y_TICK_TEXT):
        annotations.append(dict(x=px(L - 8), y=v, xref="paper", yref=ya, text=t, showarrow=False,
                                xanchor="right", yanchor="middle",
                                font=dict(size=16, color="black", family=FONT)))
    # year labels (centred on the visible part of each year unless given)
    for y in range(int(np.floor(x0)), int(np.ceil(x1))):
        a, b = max(y, x0), min(y + 1, x1)
        if b - a < 0.2:
            continue
        xpos = p.get("label_x", {}).get(y, (a + b) / 2)
        annotations.append(dict(x=xpos, y=py(B + 20), xref=xa, yref="paper", text=str(y),
                                showarrow=False, xanchor="center", yanchor="middle",
                                font=dict(size=16, color="black", family=FONT)))
    # panel title
    annotations.append(dict(x=px(p["tx"]), y=py(T - 13), xref="paper", yref="paper", text=p["title"],
                            showarrow=False, xanchor="center", yanchor="middle",
                            font=dict(size=17, color="black", family=FONT)))

# axis titles
for xc in (279, 760):
    annotations.append(dict(x=px(xc), y=py(1509), xref="paper", yref="paper", text="Years", showarrow=False,
                            xanchor="center", yanchor="middle", font=dict(size=18, color="black", family=FONT)))

# legend box
shapes.append(dict(type="rect", xref="paper", yref="paper", x0=px(993), x1=px(1252), y0=py(848), y1=py(644),
                   line=dict(color="#555555", width=1), fillcolor="white", layer="above"))
for k, (name, c) in enumerate(zip(LEGEND_NAMES, LEGEND_COL)):
    yc = 671 + k * 29.8
    shapes.append(dict(type="rect", xref="paper", yref="paper", x0=px(1012), x1=px(1050),
                       y0=py(yc + 10), y1=py(yc - 10), line=dict(color="#404040", width=1),
                       fillcolor=c, layer="above"))
    annotations.append(dict(x=px(1064), y=py(yc), xref="paper", yref="paper", text=name, showarrow=False,
                            xanchor="left", yanchor="middle", font=dict(size=19, color="black", family=FONT)))

fig.update_layout(
    width=FIG_W, height=FIG_H, autosize=False,
    margin=dict(l=0, r=0, t=0, b=0, pad=0, autoexpand=False),
    paper_bgcolor="white", plot_bgcolor="white",
    showlegend=False, hovermode=False,
    font=dict(family=FONT, size=16, color="black"),
    annotations=annotations, shapes=shapes,
    **layout,
)

fig.write_html("out.html", config=dict(displayModeBar=False, responsive=False),
               post_script="document.body.style.margin='0';")
